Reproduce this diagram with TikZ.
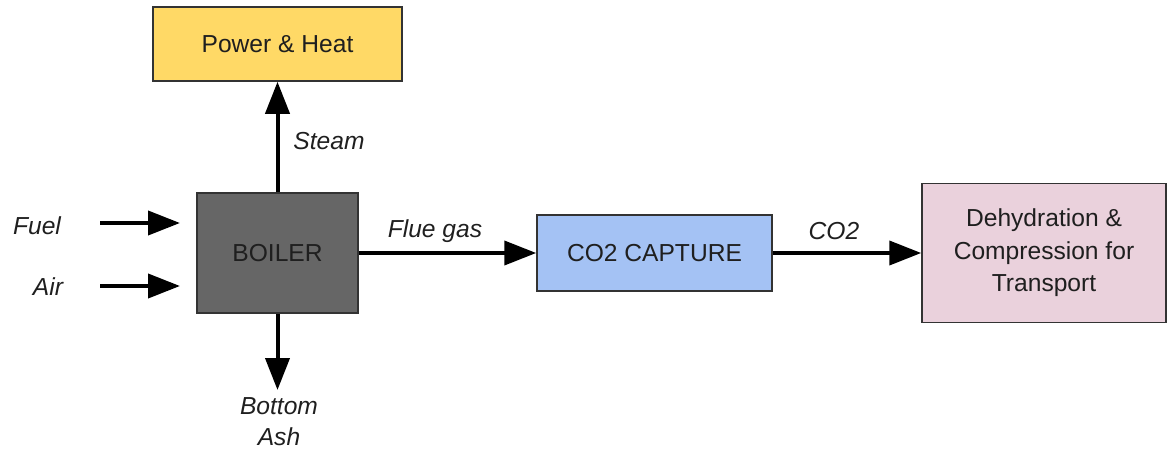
\documentclass[tikz,border=0pt]{standalone}
\usepackage{fontspec}
\setmainfont{Liberation Sans}
\usetikzlibrary{arrows.meta}
\definecolor{powery}{HTML}{FFD966}
\definecolor{boilerg}{HTML}{666666}
\definecolor{captureb}{HTML}{A4C2F4}
\definecolor{dehydp}{HTML}{EAD1DC}
\definecolor{txt}{HTML}{1F1F1F}
\tikzset{
  box/.style={draw=black!80, line width=1.5pt, align=center, inner sep=0pt, text=txt,
    font=\fontsize{24.6}{32.5}\selectfont},
  lbl/.style={align=center, inner sep=0pt, text=txt, font=\fontsize{24.6}{31}\selectfont\itshape},
  flow/.style={line width=4pt, draw=black, -{Triangle[length=32pt,width=24pt]}}
}
\begin{document}
\begin{tikzpicture}[x=1pt,y=-1pt]
\useasboundingbox (0,0) rectangle (1167,450);
\node[box, fill=powery, minimum width=249pt, minimum height=74pt] (power) at (277.5,44) {Power \& Heat};
\node[box, fill=boilerg, minimum width=161pt, minimum height=120pt] (boiler) at (277.5,253) {BOILER};
\node[box, fill=captureb, minimum width=235pt, minimum height=76pt] (capture) at (654.5,253) {CO2 CAPTURE};
\node[box, fill=dehydp, minimum width=244pt, minimum height=139pt] (dehyd) at (1044,253) {Dehydration \&\\Compression for\\Transport};
\node[lbl] (fuel) at (37,226) {Fuel};
\node[lbl] (air) at (48,287) {Air};
\node[lbl] (steam) at (329,141) {Steam};
\node[lbl] (flue) at (435,231) {Flue gas};
\node[lbl] (co2) at (834,231) {CO2};
\node[lbl] (ash) at (279,422) {Bottom\\Ash};
\coordinate (fuelS) at (100,223);
\coordinate (fuelE) at (180,223);
\coordinate (airS) at (100,286);
\coordinate (airE) at (180,286);
\coordinate (ashE) at (277.5,390);
\draw[flow] (fuelS) -- (fuelE);
\draw[flow] (airS) -- (airE);
\draw[flow] (boiler.north) -- (power.south);
\draw[flow] (boiler.south) -- (ashE);
\draw[flow] (boiler.east) -- (capture.west);
\draw[flow] (capture.east) -- (dehyd.west);
\end{tikzpicture}
\end{document}
